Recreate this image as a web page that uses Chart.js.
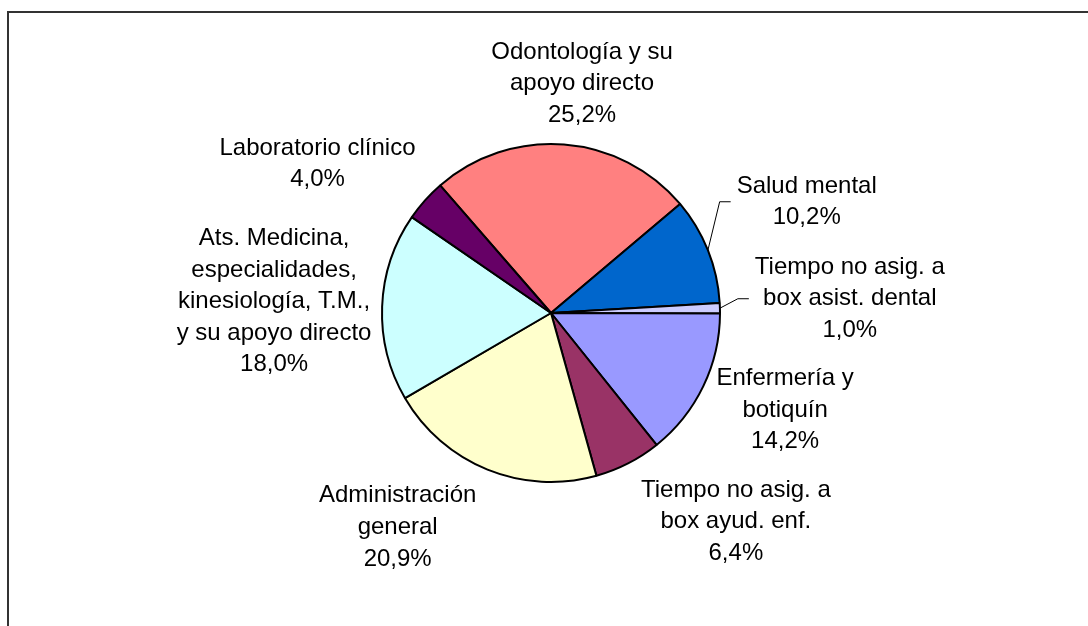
<!DOCTYPE html>
<html>
<head>
<meta charset="utf-8">
<script src="https://cdn.jsdelivr.net/npm/chart.js@4/dist/chart.umd.min.js"></script>
<style>
  html, body { margin: 0; padding: 0; background: #fff; }
  #wrap { width: 1088px; height: 626px; }
</style>
</head>
<body>
<div id="wrap"><canvas id="pie" width="1088" height="626"></canvas></div>
<script>
// data, clockwise starting at the Odontología slice
const categories = [
    'Odontología y su\napoyo directo',
    'Salud mental',
    'Tiempo no asig. a\nbox asist. dental',
    'Enfermería y\nbotiquín',
    'Tiempo no asig. a\nbox ayud. enf.',
    'Administración\ngeneral',
    'Ats. Medicina,\nespecialidades,\nkinesiología, T.M.,\ny su apoyo directo',
    'Laboratorio clínico'
];
const shares = [25.2, 10.2, 1.0, 14.2, 6.4, 20.9, 18.0, 4.0];
const sliceColors = ['#FF8080', '#0066CC', '#CCCCFF', '#9999FF', '#993366', '#FFFFCC', '#CCFFFF', '#660066'];

// label placement: [angle shift from slice middle (deg), distance as multiple of radius]
const labelPlace = [[3.3, 1.37], [-1.7, 1.65], [-1.1, 1.77], [-3.2, 1.50], [-14.4, 1.65], [13.5, 1.56], [0.2, 1.64], [-9.2, 1.64]];
const withLeader = [false, true, true, false, false, false, false, false];

const FONT = '24px "Liberation Sans", Arial, sans-serif';
const LINE_H = 31.6;

const fmtPct = (v) => v.toFixed(1).replace('.', ',') + '%';

const framePlugin = {
    id: 'frame',
    beforeDraw(chart) {
        const ctx = chart.ctx;
        ctx.save();
        ctx.strokeStyle = '#333';
        ctx.lineWidth = 2;
        ctx.beginPath();
        ctx.moveTo(8, 626);
        ctx.lineTo(8, 12);
        ctx.lineTo(1088, 12);
        ctx.stroke();
        ctx.restore();
    }
};

const labelPlugin = {
    id: 'outerLabels',
    afterDatasetsDraw(chart) {
        const ctx = chart.ctx;
        const arcs = chart.getDatasetMeta(0).data;
        ctx.save();
        ctx.font = FONT;
        ctx.fillStyle = '#000';
        ctx.textAlign = 'center';
        ctx.textBaseline = 'middle';
        arcs.forEach((arc, i) => {
            const { x, y, startAngle, endAngle, outerRadius } = arc.getProps(['x', 'y', 'startAngle', 'endAngle', 'outerRadius'], true);
            const mid = (startAngle + endAngle) / 2;
            const [shift, factor] = labelPlace[i];
            const a = mid + shift * Math.PI / 180;
            const cx = x + Math.cos(a) * outerRadius * factor;
            const cy = y + Math.sin(a) * outerRadius * factor;
            const lines = categories[i].split('\n').concat(fmtPct(shares[i]));
            const top = cy - (lines.length - 1) * LINE_H / 2;
            let maxW = 0;
            lines.forEach((ln, k) => {
                ctx.fillText(ln, cx, top + k * LINE_H);
                maxW = Math.max(maxW, ctx.measureText(ln).width);
            });
            if (withLeader[i]) {
                const sx = x + Math.cos(mid) * outerRadius;
                const sy = y + Math.sin(mid) * outerRadius;
                const ex = cx - maxW / 2 - 6;
                const ey = cy;
                ctx.strokeStyle = '#000';
                ctx.lineWidth = 1;
                ctx.beginPath();
                ctx.moveTo(sx, sy);
                ctx.lineTo(ex - 11, ey);
                ctx.lineTo(ex, ey);
                ctx.stroke();
            }
        });
        ctx.restore();
    }
};

new Chart(document.getElementById('pie'), {
    type: 'pie',
    data: {
        labels: categories,
        datasets: [{
            data: shares,
            backgroundColor: sliceColors,
            borderColor: '#000',
            borderWidth: 2
        }]
    },
    options: {
        responsive: false,
        animation: false,
        rotation: -41,
        radius: 169,
        layout: { padding: { left: 14, right: 0, top: 0, bottom: 0 } },
        plugins: {
            legend: { display: false },
            tooltip: { enabled: false }
        }
    },
    plugins: [framePlugin, labelPlugin]
});
</script>
</body>
</html>
